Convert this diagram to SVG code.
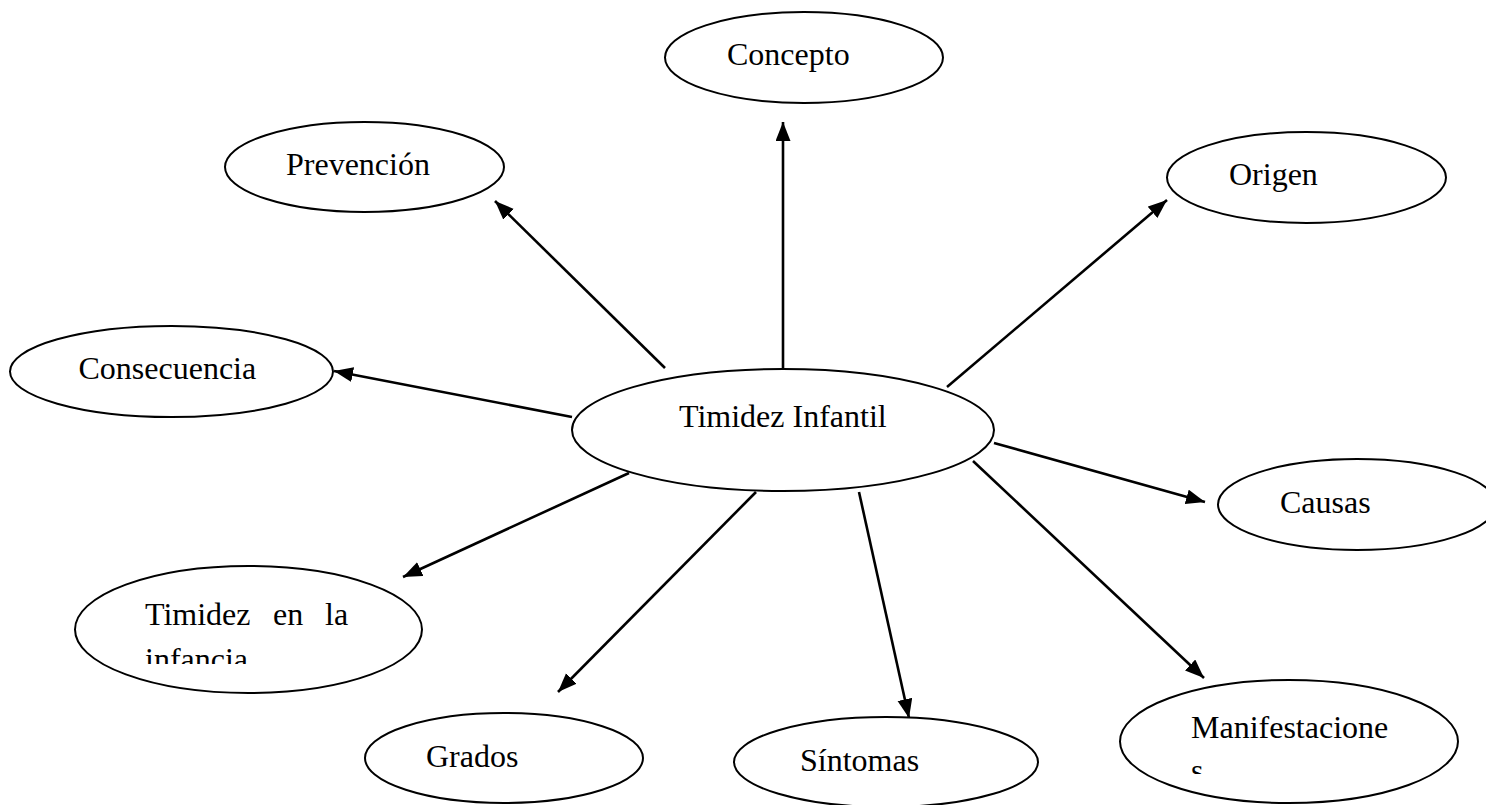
<svg xmlns="http://www.w3.org/2000/svg" width="1486" height="805" viewBox="0 0 1486 805">
<style>
.n ellipse{fill:#fff;stroke:#000;stroke-width:2}
.n text{font-family:"Liberation Serif","Times New Roman",serif;font-size:32px;fill:#000}
#edges line{stroke:#000;stroke-width:2.6;marker-end:url(#ah)}
</style>
<defs>
<marker id="ah" markerUnits="userSpaceOnUse" markerWidth="22" markerHeight="16" refX="19" refY="7.5" orient="auto">
<path d="M0,0 L19,7.5 L0,15 z" fill="#000"/>
</marker>
<clipPath id="c1"><rect x="60" y="560" width="380" height="104"/></clipPath>
<clipPath id="c2"><rect x="1100" y="680" width="380" height="94"/></clipPath>
</defs>
<rect width="1486" height="805" fill="#fff"/>
<g id="edges">
<line x1="783" y1="369" x2="783" y2="122"/>
<line x1="665" y1="368" x2="495" y2="201"/>
<line x1="947" y1="387" x2="1167" y2="200"/>
<line x1="572" y1="417" x2="334" y2="371"/>
<line x1="994" y1="443" x2="1205" y2="502"/>
<line x1="629" y1="473" x2="403" y2="577"/>
<line x1="756" y1="492" x2="558" y2="692"/>
<line x1="859" y1="492" x2="909" y2="718"/>
<line x1="973" y1="461" x2="1204" y2="678"/>
</g>
<g id="n-centro" class="n"><ellipse cx="783" cy="430" rx="211" ry="61"/><text x="679" y="427">Timidez Infantil</text></g>
<g id="n-concepto" class="n"><ellipse cx="804" cy="57.5" rx="139" ry="45.5"/><text x="727" y="65">Concepto</text></g>
<g id="n-prevencion" class="n"><ellipse cx="364.5" cy="167" rx="139.5" ry="45"/><text x="286" y="175">Prevención</text></g>
<g id="n-origen" class="n"><ellipse cx="1306.5" cy="177.5" rx="139.5" ry="45.5"/><text x="1229" y="185">Origen</text></g>
<g id="n-consecuencia" class="n"><ellipse cx="171.5" cy="371.5" rx="161.5" ry="45.5"/><text x="78.5" y="379">Consecuencia</text></g>
<g id="n-causas" class="n"><ellipse cx="1357" cy="504.5" rx="139" ry="45.5"/><text x="1280" y="513">Causas</text></g>
<g id="n-infancia" class="n"><ellipse cx="248.5" cy="629.5" rx="173.5" ry="63.5"/><g clip-path="url(#c1)"><text y="625"><tspan x="145">Timidez</tspan><tspan x="273">en</tspan><tspan x="325">la</tspan></text><text x="145" y="670">infancia.</text></g></g>
<g id="n-grados" class="n"><ellipse cx="504" cy="758" rx="139" ry="45"/><text x="426" y="767">Grados</text></g>
<g id="n-sintomas" class="n"><ellipse cx="886" cy="762" rx="152" ry="45"/><text x="800" y="771">Síntomas</text></g>
<g id="n-manifestaciones" class="n"><ellipse cx="1289" cy="741.5" rx="169" ry="61.5"/><g clip-path="url(#c2)"><text x="1191" y="738">Manifestacione</text><text x="1191" y="781">s</text></g></g>
</svg>
